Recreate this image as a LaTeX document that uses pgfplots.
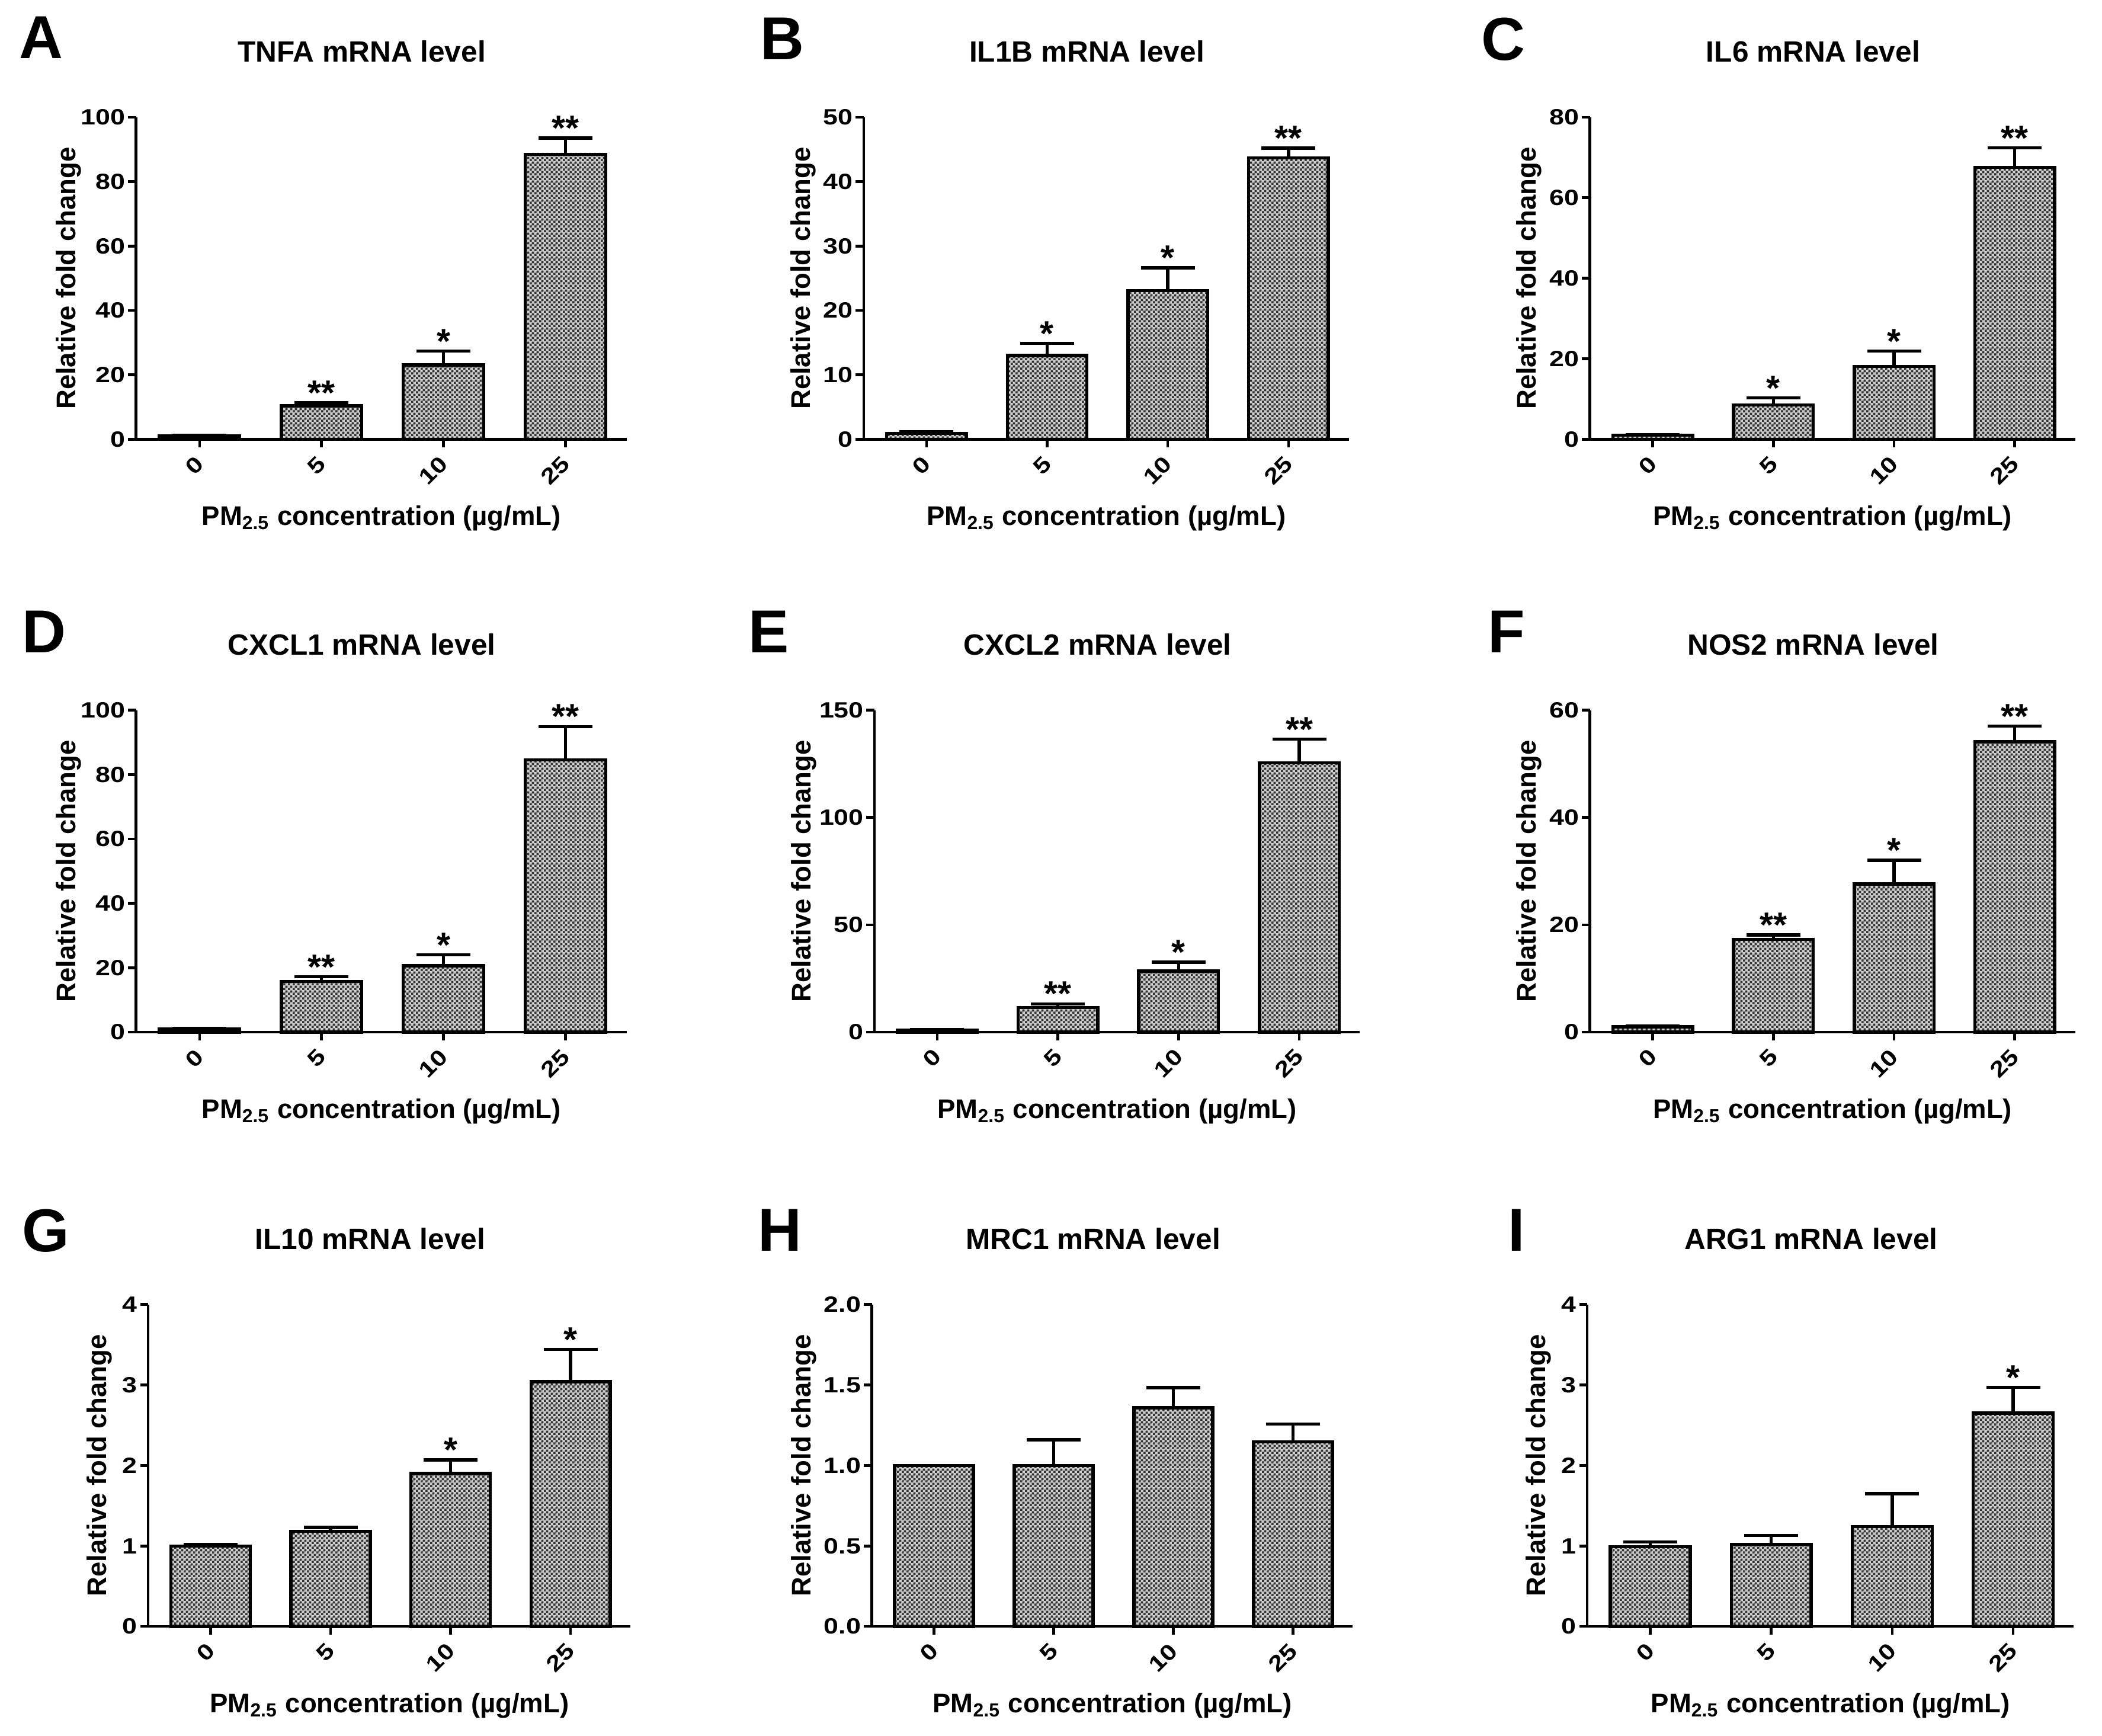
\documentclass[border=0pt]{standalone}
\usepackage{fontspec}
\setmainfont{Liberation Sans}
\newfontfamily\tickfont{Liberation Sans}[FakeStretch=1.2]
\usepackage{pgfplots}
\pgfplotsset{compat=1.18}
\usetikzlibrary{patterns.meta}

\pgfdeclarepattern{name=chk, type=uncolored,
  bottom left={\pgfpointorigin}, top right={\pgfpoint{1.8pt}{1.8pt}},
  tile size={\pgfpoint{1.8pt}{1.8pt}},
  code={\pgfpathrectangle{\pgfpointorigin}{\pgfpoint{0.9pt}{0.9pt}}
        \pgfpathrectangle{\pgfpoint{0.9pt}{0.9pt}}{\pgfpoint{0.9pt}{0.9pt}}
        \pgfusepath{fill}}}

\pgfplotsset{
  panel/.style={
    height=119.5pt, scale only axis,
    axis x line*=bottom, axis y line*=left,
    axis line style={line width=1pt, black},
    xmin=-0.52, xmax=3.5, ymin=0,
    xtick={0,1,2,3}, xticklabels={0,5,10,25},
    tick align=outside, major tick length=3pt,
    tick style={line width=1pt, black},
    minor tick num=0,
    /pgf/number format/assume math mode=true,
    yticklabel style={font=\tickfont\bfseries\fontsize{8.2}{10}\selectfont, xshift=2.5pt},
    xticklabel style={font=\tickfont\bfseries\fontsize{8.2}{10}\selectfont,
      rotate=45, anchor=east, inner sep=0pt, xshift=-3.1pt, yshift=-3.4pt},
    ylabel={Relative fold change},
    ylabel style={font=\bfseries\fontsize{10}{12}\selectfont, inner sep=1pt},
    xlabel={PM\textsubscript{2.5} concentration (µg/mL)},
    xlabel style={font=\bfseries\fontsize{10}{12}\selectfont, inner sep=0pt,
      at={(rel axis cs:0.5,0)}, anchor=base, yshift=-32pt},
    title style={font=\bfseries\fontsize{10.9}{12}\selectfont,
      at={(rel axis cs:0.46,1)}, anchor=base, yshift=14.5pt},
    clip=false,
  },
  yl/.style={ylabel style={at={(axis description cs:-#1,0.5)}, anchor=center}},
  bars/.style={ybar, bar width=0.66, bar shift=0pt, draw=black, line width=1.2pt,
    fill=gray!38, postaction={pattern=chk, pattern color=black!80},
    error bars/.cd, y dir=plus, y explicit, error mark=-,
    error bar style={line width=1.2pt, black},
    error mark options={rotate=90, line width=1.2pt, mark size=10pt, black}},
  stars/.style={only marks, mark=none, nodes near coords, point meta=explicit symbolic,
    nodes near coords style={font=\bfseries\fontsize{13}{13}\selectfont,
      anchor=south, inner sep=0pt, yshift=-1pt, black}},
}

\newcommand\plabel[3]{\node[anchor=north west, inner sep=0pt,
  font=\bfseries\fontsize{22.5}{23}\selectfont] at (#1pt,#2pt) {#3};}

\begin{document}
\begin{tikzpicture}
\useasboundingbox (0,0) rectangle (780pt,644.1pt);

% ---------- Row 1 ----------
\begin{axis}[panel, yl=0.137, width=182pt, at={(50.5pt,481.1pt)}, anchor=south west,
  title={TNFA mRNA level}, ymax=100, ytick={0,20,40,60,80,100}]
\addplot[bars] coordinates {(0,1.0) +- (0,0.3) (1,10.4) +- (0,0.9) (2,23.1) +- (0,4.3) (3,88.5) +- (0,5.0)};
\addplot[stars] coordinates {(1,11.3) [**] (2,27.4) [*] (3,93.5) [**]};
\end{axis}

\begin{axis}[panel, yl=0.125, width=180pt, at={(320.5pt,481.1pt)}, anchor=south west,
  title={IL1B mRNA level}, ymax=50, ytick={0,10,20,30,40,50}]
\addplot[bars] coordinates {(0,0.9) +- (0,0.3) (1,13.0) +- (0,1.9) (2,23.1) +- (0,3.5) (3,43.7) +- (0,1.5)};
\addplot[stars] coordinates {(1,14.9) [*] (2,26.6) [*] (3,45.2) [**]};
\end{axis}

\begin{axis}[panel, yl=0.126, width=180pt, at={(590pt,481.1pt)}, anchor=south west,
  title={IL6 mRNA level}, ymax=80, ytick={0,20,40,60,80}]
\addplot[bars] coordinates {(0,1.0) +- (0,0.2) (1,8.5) +- (0,1.8) (2,18.1) +- (0,3.8) (3,67.5) +- (0,4.9)};
\addplot[stars] coordinates {(1,10.3) [*] (2,21.9) [*] (3,72.4) [**]};
\end{axis}

% ---------- Row 2 ----------
\begin{axis}[panel, yl=0.137, width=182pt, at={(50.5pt,261.1pt)}, anchor=south west,
  title={CXCL1 mRNA level}, ymax=100, ytick={0,20,40,60,80,100}]
\addplot[bars] coordinates {(0,1.0) +- (0,0.2) (1,15.8) +- (0,1.4) (2,20.6) +- (0,3.4) (3,84.6) +- (0,10.3)};
\addplot[stars] coordinates {(1,17.2) [**] (2,24.0) [*] (3,94.9) [**]};
\end{axis}

\begin{axis}[panel, yl=0.145, width=180pt, at={(324.5pt,261.1pt)}, anchor=south west,
  title={CXCL2 mRNA level}, ymax=150, ytick={0,50,100,150}]
\addplot[bars] coordinates {(0,1.0) +- (0,0.3) (1,11.5) +- (0,1.7) (2,28.4) +- (0,4.2) (3,125.5) +- (0,11.0)};
\addplot[stars] coordinates {(1,13.2) [**] (2,32.6) [*] (3,136.5) [**]};
\end{axis}

\begin{axis}[panel, yl=0.126, width=180pt, at={(590pt,261.1pt)}, anchor=south west,
  title={NOS2 mRNA level}, ymax=60, ytick={0,20,40,60}]
\addplot[bars] coordinates {(0,1.0) +- (0,0.2) (1,17.3) +- (0,0.8) (2,27.6) +- (0,4.4) (3,54.1) +- (0,2.9)};
\addplot[stars] coordinates {(1,18.1) [**] (2,32.0) [*] (3,57.0) [**]};
\end{axis}

% ---------- Row 3 ----------
\begin{axis}[panel, yl=0.101, width=179pt, at={(55pt,40.6pt)}, anchor=south west,
  title={IL10 mRNA level}, ymax=4, ytick={0,1,2,3,4}]
\addplot[bars] coordinates {(0,1.0) +- (0,0.02) (1,1.18) +- (0,0.05) (2,1.90) +- (0,0.17) (3,3.04) +- (0,0.40)};
\addplot[stars] coordinates {(2,2.07) [*] (3,3.44) [*]};
\end{axis}

\begin{axis}[panel, yl=0.141, width=178.5pt, at={(323.5pt,40.6pt)}, anchor=south west,
  title={MRC1 mRNA level}, ymax=2, ytick={0,0.5,1,1.5,2},
  yticklabel style={/pgf/number format/.cd, fixed, fixed zerofill, precision=1}]
\addplot[bars] coordinates {(0,1.0) +- (0,0.0) (1,1.0) +- (0,0.16) (2,1.358) +- (0,0.126) (3,1.147) +- (0,0.11)};
\end{axis}

\begin{axis}[panel, yl=0.100, width=180.5pt, at={(589pt,40.6pt)}, anchor=south west,
  title={ARG1 mRNA level}, ymax=4, ytick={0,1,2,3,4}]
\addplot[bars] coordinates {(0,0.99) +- (0,0.06) (1,1.02) +- (0,0.11) (2,1.24) +- (0,0.41) (3,2.65) +- (0,0.32)};
\addplot[stars] coordinates {(3,2.97) [*]};
\end{axis}

% panel letters
\plabel{7}{638.1}{A}
\plabel{282}{637.6}{B}
\plabel{549.5}{637.6}{C}
\plabel{8}{417.6}{D}
\plabel{277.5}{417.6}{E}
\plabel{552}{417.6}{F}
\plabel{8}{195.6}{G}
\plabel{281}{195.6}{H}
\plabel{559.5}{195.6}{I}
\end{tikzpicture}
\end{document}
